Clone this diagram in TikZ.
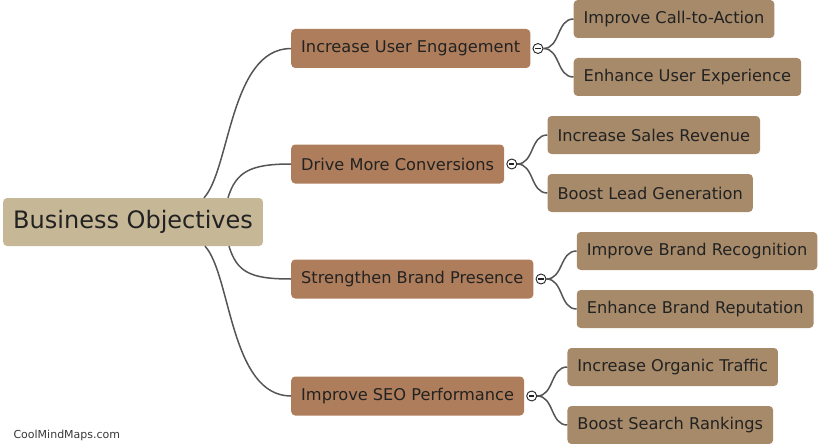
\documentclass[tikz,border=0pt]{standalone}
\usepackage{fontspec}
\setmainfont{DejaVu Sans}
\usepackage{tikz}
\usetikzlibrary{calc,positioning}
\definecolor{rootfill}{HTML}{C6B797}
\definecolor{mainfill}{HTML}{AE7D5B}
\definecolor{subfill}{HTML}{A68A6A}
\definecolor{inkdark}{HTML}{222222}
\definecolor{linegray}{HTML}{555555}
\tikzset{
root_topic/.style={rectangle, rounded corners=4pt, fill=rootfill, text=inkdark, anchor=west, inner xsep=10pt, minimum height=48pt, font=\fontsize{24}{28}\selectfont},
main_topic/.style={rectangle, rounded corners=4pt, fill=mainfill, text=inkdark, anchor=west, inner xsep=10pt, minimum height=39pt, font=\fontsize{16.2}{19}\selectfont},
sub_topic/.style={rectangle, rounded corners=4pt, fill=subfill, text=inkdark, inner xsep=10pt, minimum height=38pt, font=\fontsize{16.2}{19}\selectfont},
toggle_dot/.style={circle, draw=inkdark, fill=white, line width=0.9pt, minimum size=10pt, inner sep=0pt,
  path picture={\draw[line width=1.2pt] ([xshift=-2.6pt]path picture bounding box.center) -- ([xshift=2.6pt]path picture bounding box.center);}},
branch/.style={draw=linegray, line width=1.5pt}
}

\begin{document}
\begin{tikzpicture}[x=1pt, y=-1pt]
    \useasboundingbox (0,0) rectangle (828,444);
    \node[root_topic] (root) at (3,222) {Business Objectives};
    \node[main_topic] (goal_1) at (291,48.5) {Increase User Engagement};
    \node[main_topic] (goal_2) at (291,164) {Drive More Conversions};
    \node[main_topic] (goal_3) at (291,279) {Strengthen Brand Presence};
    \node[main_topic] (goal_4) at (291,396) {Improve SEO Performance};
    \node[sub_topic] (sub_1_1) [right=43pt of goal_1, yshift=29.5pt] {Improve Call-to-Action};
    \node[sub_topic] (sub_1_2) [right=43pt of goal_1, yshift=-28.5pt] {Enhance User Experience};
    \node[sub_topic] (sub_2_1) [right=43pt of goal_2, yshift=29pt] {Increase Sales Revenue};
    \node[sub_topic] (sub_2_2) [right=43pt of goal_2, yshift=-29pt] {Boost Lead Generation};
    \node[sub_topic] (sub_3_1) [right=43pt of goal_3, yshift=28pt] {Improve Brand Recognition};
    \node[sub_topic] (sub_3_2) [right=43pt of goal_3, yshift=-30pt] {Enhance Brand Reputation};
    \node[sub_topic] (sub_4_1) [right=43pt of goal_4, yshift=29pt] {Increase Organic Traffic};
    \node[sub_topic] (sub_4_2) [right=43pt of goal_4, yshift=-29pt] {Boost Search Rankings};
    % root to main topics
    \draw[branch] ([xshift=201pt]root.north west) .. controls +(26,-28) and +(-61,0) .. (goal_1.west);
    \draw[branch] ([xshift=225pt]root.north west) .. controls +(8,-26) and +(-41,0) .. (goal_2.west);
    \draw[branch] ([xshift=226pt]root.south west) .. controls +(8,26) and +(-41,0) .. (goal_3.west);
    \draw[branch] ([xshift=202pt]root.south west) .. controls +(26,28) and +(-61,0) .. (goal_4.west);
    % main topics to sub topics
    \foreach \g in {1,2,3,4} {
        \node[toggle_dot] (dot_\g) [right=2pt of goal_\g] {};
        \draw[branch] (dot_\g.east) .. controls +(17,0) and +(-17,0) .. (sub_\g_1.west);
        \draw[branch] (dot_\g.east) .. controls +(17,0) and +(-17,0) .. (sub_\g_2.west);
    }
    \node[anchor=west, text=inkdark!90, font=\fontsize{11}{13}\selectfont] (brand) at (10,435) {CoolMindMaps.com};
\end{tikzpicture}
\end{document}
